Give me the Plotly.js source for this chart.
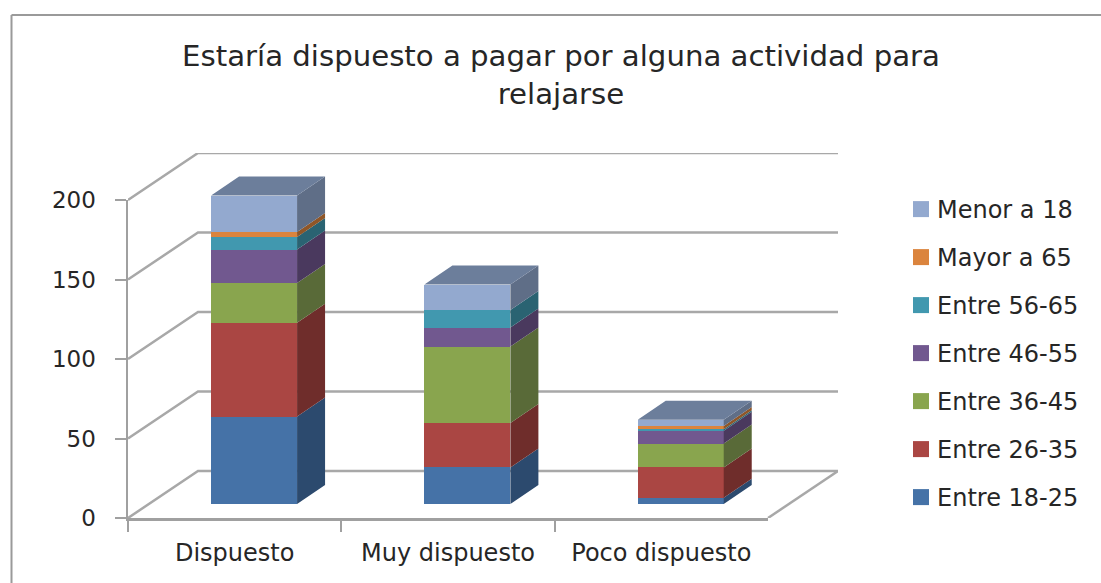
<!DOCTYPE html>
<html>
<head>
<meta charset="utf-8">
<script src="https://cdn.plot.ly/plotly-3.0.1.min.js"></script>
<style>
html,body{margin:0;padding:0;background:#fff;overflow:hidden}
#chart{width:1101px;height:583px}
</style>
</head>
<body>
<div id="chart"></div>
<script>
// ---- data ----
const categorias = ['Dispuesto', 'Muy dispuesto', 'Poco dispuesto'];
const entre18_25 = [55, 23, 4];
const entre26_35 = [59, 28, 19];
const entre36_45 = [25, 48, 15];
const entre46_55 = [21, 12, 8];
const entre56_65 = [8, 11, 1];
const mayor65 = [3, 0, 2];
const menor18 = [23, 16, 4];
const nombres = ['Entre 18-25','Entre 26-35','Entre 36-45','Entre 46-55','Entre 56-65','Mayor a 65','Menor a 18'];
const valores = [entre18_25, entre26_35, entre36_45, entre46_55, entre56_65, mayor65, menor18];
const colorFrente = ['#4572A7','#AA4643','#89A54E','#71588F','#4198AF','#DB843D','#93A9CF'];
const colorLado = ['#2C4A6E','#6F2D2B','#596A38','#4A395E','#2A6372','#8F5628','#5F6E87'];
const colorTecho = '#6C7E9B';
const ticksY = [0, 50, 100, 150, 200];

// ---- projection of the fake 3-D box ----
const W = 1101, H = 583;
const pxX = 640 / 3, pxY = 318 / 200;      // px per x unit, px per y unit
const x0 = 128, y0 = 518;                  // front-plane origin in px
const fondoX = 70 / pxX, fondoY = 47 / pxY; // depth of the walls
const barX = 28 / pxX, barY = 19 / pxY;    // depth of each bar
const anchoBar = 86 / pxX;
const insetX = 19.4, insetY = 14;          // bar front face inside the floor
const dx = p => p / W, dy = p => (H - p) / H;

const traces = [];

// the category axis needs one silent trace
traces.push({type:'scatter', mode:'none', x:categorias, y:categorias.map(()=>0),
  xaxis:'x', yaxis:'y', showlegend:false, hoverinfo:'skip'});

// walls and floor
const gx = [], gy = [];
ticksY.forEach(v => { gx.push(0, fondoX, 3 + fondoX, null); gy.push(v, v + fondoY, v + fondoY, null); });
gx.push(3, 3 + fondoX, null); gy.push(0, fondoY, null);
traces.push({type:'scatter', mode:'lines', x:gx, y:gy, xaxis:'x2', yaxis:'y2',
  line:{color:'#A8A8A8', width:2.5}, showlegend:false, hoverinfo:'skip'});

// front faces (real stacked bars)
const posX = categorias.map((c, i) => i + 0.5);
valores.forEach((v, s) => {
  traces.push({type:'bar', name:nombres[s], x:posX, y:v, width:anchoBar,
    xaxis:'x3', yaxis:'y3', legendgroup:nombres[s], legendrank:100 - s,
    marker:{color:colorFrente[s], line:{width:0}}, hoverinfo:'skip'});
});

// side and top faces, from the same stack
const acum = categorias.map(() => 0);
valores.forEach((v, s) => {
  const sx = [], sy = [];
  v.forEach((val, i) => {
    const r = posX[i] + anchoBar / 2, a = acum[i], b = a + val;
    sx.push(r, r + barX, r + barX, r, r, null);
    sy.push(a, a + barY, b + barY, b, a, null);
    acum[i] = b;
  });
  traces.push({type:'scatter', mode:'lines', x:sx, y:sy, fill:'toself', fillcolor:colorLado[s],
    line:{width:0, color:colorLado[s]}, xaxis:'x3', yaxis:'y3', showlegend:false, hoverinfo:'skip'});
});
const tx = [], ty = [];
acum.forEach((t, i) => {
  const l = posX[i] - anchoBar / 2, r = posX[i] + anchoBar / 2;
  tx.push(l, l + barX, r + barX, r, l, null);
  ty.push(t, t + barY, t + barY, t, t, null);
});
traces.push({type:'scatter', mode:'lines', x:tx, y:ty, fill:'toself', fillcolor:colorTecho,
  line:{width:0, color:colorTecho}, xaxis:'x3', yaxis:'y3', showlegend:false, hoverinfo:'skip'});

const fuente = {family:'"DejaVu Sans", sans-serif', color:'#262626'};
const gris = '#A0A0A0';
const layout = {
  width:W, height:H, margin:{l:0, r:0, t:0, b:0}, paper_bgcolor:'#fff', plot_bgcolor:'rgba(0,0,0,0)',
  barmode:'stack', hovermode:false,
  title:{text:'Estaría dispuesto a pagar por alguna actividad para<br>relajarse',
    font:Object.assign({size:29.2}, fuente), x:561 / W, xanchor:'center', y:1 - 66 / H, yanchor:'middle'},
  xaxis:{type:'category', categoryorder:'array', categoryarray:categorias, range:[-0.5, 2.5], tickson:'boundaries',
    domain:[dx(x0), dx(x0 + 640)], anchor:'y', showgrid:false, zeroline:false, showline:true, linecolor:gris, linewidth:2.5,
    ticks:'outside', ticklen:11, tickwidth:2, tickcolor:gris, ticklabelstandoff:12,
    tickfont:Object.assign({size:24}, fuente), fixedrange:true},
  yaxis:{range:[0, 200], domain:[dy(y0), dy(200)], anchor:'x', tickvals:ticksY, showgrid:false, zeroline:false,
    showline:true, linecolor:gris, linewidth:2.5, ticks:'outside', ticklen:11, tickwidth:2, tickcolor:gris,
    ticklabelstandoff:14, tickfont:Object.assign({size:23}, fuente), fixedrange:true},
  xaxis2:{visible:false, range:[0, 3 + fondoX], domain:[dx(x0), dx(x0 + 640 + 70)], anchor:'y2', fixedrange:true},
  yaxis2:{visible:false, range:[0, 200 + fondoY], domain:[dy(y0), dy(200 - 47)], anchor:'x2', fixedrange:true},
  xaxis3:{visible:false, range:[0, 3.2], domain:[dx(x0 + insetX), dx(x0 + insetX + 3.2 * pxX)], anchor:'y3', fixedrange:true},
  yaxis3:{visible:false, range:[0, 220], domain:[dy(y0 - insetY), dy(y0 - insetY - 220 * pxY)], anchor:'x3', fixedrange:true},
  legend:{x:897 / W, xanchor:'left', y:dy(187), yanchor:'top', traceorder:'grouped', tracegroupgap:13.8,
    bgcolor:'rgba(0,0,0,0)', font:Object.assign({size:24}, fuente), itemclick:false, itemdoubleclick:false},
  shapes:[
    {type:'line', xref:'paper', yref:'paper', x0:dx(11.5), x1:dx(11.5), y0:0, y1:dy(15), line:{color:'#9A9A9A', width:2}},
    {type:'line', xref:'paper', yref:'paper', x0:dx(11.5), x1:1, y0:dy(15), y1:dy(15), line:{color:'#9A9A9A', width:2}}
  ]
};
Plotly.newPlot('chart', traces, layout, {staticPlot:true, displayModeBar:false}).then(() => {
  // enlarge the legend swatches to the reference's 16 px squares
  document.querySelectorAll('.legendpoints path').forEach(p => p.setAttribute('d', 'M12,8H-4V-8H12Z'));
});
</script>
</body>
</html>
